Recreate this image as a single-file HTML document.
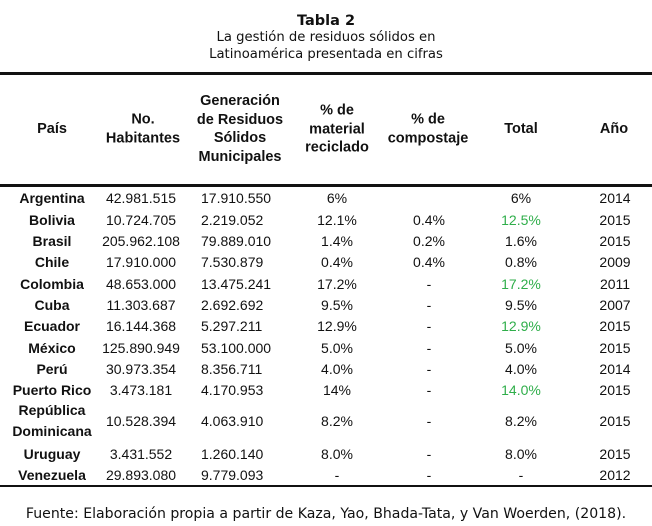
<!DOCTYPE html>
<html><head><meta charset="utf-8"><style>
body{margin:0;width:652px;height:526px;background:#fff;position:relative;overflow:hidden;font-family:"Liberation Sans",sans-serif;color:#111}
.a{position:absolute;white-space:nowrap}
.t{font-family:"DejaVu Sans",sans-serif}
.h{font-weight:bold;font-size:14.5px;line-height:18.5px;text-align:center;transform:translate(-50%,-50%)}
.c{font-size:14px;transform:translate(-50%,-50%)}
.l{font-size:14px;transform:translate(0,-50%)}
.b{font-weight:bold}
.g{color:#2fae4a}
.rule{position:absolute;left:0;width:652px;background:#111}
</style></head><body>
<div class="a t b" style="left:0;width:652px;text-align:center;top:13px;font-size:14.5px">Tabla 2</div>
<div class="a t" style="left:0;width:652px;text-align:center;top:29px;font-size:13.2px;line-height:17px;white-space:normal">La gestión de residuos sólidos en<br>Latinoamérica presentada en cifras</div>
<div class="rule" style="top:72px;height:3px"></div>
<div class="rule" style="top:184px;height:3px"></div>
<div class="rule" style="top:485px;height:2px"></div>
<div class="a h" style="left:52px;top:129px">País</div>
<div class="a h" style="left:143px;top:129px">No.<br>Habitantes</div>
<div class="a h" style="left:240px;top:129px">Generación<br>de Residuos<br>Sólidos<br>Municipales</div>
<div class="a h" style="left:337px;top:129px">% de<br>material<br>reciclado</div>
<div class="a h" style="left:428px;top:129px">% de<br>compostaje</div>
<div class="a h" style="left:521px;top:129px">Total</div>
<div class="a h" style="left:614px;top:129px">Año</div>
<div id="rows"></div>
<div class="a t" style="left:0;width:652px;text-align:center;top:506px;font-size:14.1px">Fuente: Elaboración propia a partir de Kaza, Yao, Bhada-Tata, y Van Woerden, (2018).</div>
<script>
const countries=["Argentina","Bolivia","Brasil","Chile","Colombia","Cuba","Ecuador","México","Perú","Puerto Rico","República<br>Dominicana","Uruguay","Venezuela"];
const habitantes=["42.981.515","10.724.705","205.962.108","17.910.000","48.653.000","11.303.687","16.144.368","125.890.949","30.973.354","3.473.181","10.528.394","3.431.552","29.893.080"];
const generacion=["17.910.550","2.219.052","79.889.010","7.530.879","13.475.241","2.692.692","5.297.211","53.100.000","8.356.711","4.170.953","4.063.910","1.260.140","9.779.093"];
const reciclado=["6%","12.1%","1.4%","0.4%","17.2%","9.5%","12.9%","5.0%","4.0%","14%","8.2%","8.0%","-"];
const compostaje=["","0.4%","0.2%","0.4%","-","-","-","-","-","-","-","-","-"];
const total=["6%","12.5%","1.6%","0.8%","17.2%","9.5%","12.9%","5.0%","4.0%","14.0%","8.2%","8.0%","-"];
const highlighted=[false,true,false,false,true,false,true,false,false,true,false,false,false];
const anio=["2014","2015","2015","2009","2011","2007","2015","2015","2014","2015","2015","2015","2012"];
const rowY=[198,219.5,241,262,284,305,326,348,369,390,421,454,475];
const host=document.getElementById('rows');
function cell(cls,x,y,txt,name){
  const d=document.createElement('div');
  d.className='a '+cls;
  d.style.left=x+'px';d.style.top=y+'px';
  d.innerHTML=txt;
  
  
  host.appendChild(d);
}
countries.forEach((c,i)=>{
  const y=rowY[i];
  cell('c b',52,y,c,'country-name');
  if(i===10){host.lastChild.style.textAlign='center';host.lastChild.style.lineHeight='21px';}
  cell('c',141,y,habitantes[i],'habitantes-cell');
  cell('l',201,y,generacion[i],'generacion-cell');
  cell('c',337,y,reciclado[i],'reciclado-cell');
  cell('c',429,y,compostaje[i],'compostaje-cell');
  cell('c'+(highlighted[i]?' g':''),521,y,total[i],'total-cell');
  cell('c',615,y,anio[i],'anio-cell');
});
</script>
</body></html>
